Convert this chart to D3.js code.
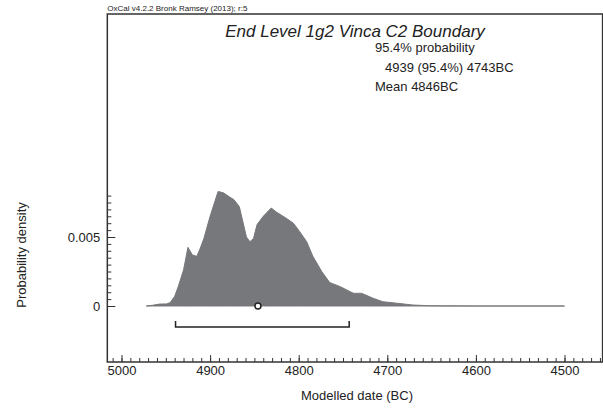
<!DOCTYPE html>
<html>
<head>
<meta charset="utf-8">
<script src="https://cdn.jsdelivr.net/npm/d3@7"></script>
<style>
  body { margin: 0; background: #fff; }
  text { font-family: "Liberation Sans", Arial, sans-serif; fill: #222; }
</style>
</head>
<body>
<div id="chart"></div>
<script>
// posterior density (year BC, probability)
var years   = [4972, 4965, 4957, 4949, 4945, 4940, 4936, 4930, 4925, 4920, 4915, 4911, 4907, 4900,
               4891, 4885, 4878, 4873, 4867, 4863, 4859, 4855, 4851, 4847, 4840, 4831, 4825, 4820,
               4815, 4806, 4799, 4791, 4784, 4774, 4765, 4753, 4742, 4738, 4729, 4716, 4705, 4689,
               4671, 4652, 4640, 4600, 4500];
var density = [0, 0.00005, 0.00014, 0.00015, 0.00025, 0.0007, 0.0014, 0.0026, 0.00425, 0.0037, 0.0036, 0.0042, 0.0049, 0.0065,
               0.0083, 0.0082, 0.0079, 0.0077, 0.0072, 0.0061, 0.0050, 0.00466, 0.0049, 0.0059, 0.0065, 0.0071, 0.0068, 0.0066,
               0.0064, 0.0060, 0.0054, 0.00466, 0.0036, 0.0025, 0.0017, 0.0014, 0.00104, 0.00092, 0.00092, 0.00056, 0.00031, 0.0002,
               0.00007, 0.00002, 0.00001, 0, 0];
var xTicks = [5000, 4900, 4800, 4700, 4600, 4500];
var yTicks = [0, 0.005];
var range95 = [4939, 4743];
var meanDate = 4846;
var title = "End Level 1g2 Vinca C2 Boundary";
var notes = ["95.4% probability", "4939 (95.4%) 4743BC", "Mean 4846BC"];

var width = 603, height = 416;
var svg = d3.select("#chart").append("svg")
    .attr("width", width)
    .attr("height", height);

var x = d3.scaleLinear().domain([5000, 4500]).range([121.5, 564.5]);
var y = d3.scaleLinear().domain([0, 0.005]).range([306, 237]);

var frameL = x(5016), frameR = x(4457), frameT = 14, frameB = 362;

// density area
var pts = years.map(function(d, i) { return [d, density[i]]; });
var area = d3.area()
    .x(function(d) { return x(d[0]); })
    .y0(y(0))
    .y1(function(d) { return y(d[1]); });
svg.append("path")
    .datum(pts)
    .attr("d", area)
    .attr("fill", "#77787b")
    .attr("stroke", "#77787b")
    .attr("stroke-width", 1);

// x axis, ticks inward
var xMajor = d3.axisBottom(x).tickValues(xTicks).tickSize(-7).tickPadding(4).tickFormat(d3.format("d"));
var xMinor = d3.axisBottom(x).tickValues(d3.range(5010, 4456, -10)).tickSize(-4).tickFormat("");
svg.append("g").attr("transform", "translate(0," + frameB + ")").call(xMinor);
svg.append("g").attr("transform", "translate(0," + frameB + ")").call(xMajor);

// y axis, ticks inward
var yMajor = d3.axisLeft(y).tickValues(yTicks).tickSize(-8).tickPadding(7).tickFormat(function(d) { return d === 0 ? "0" : d3.format(".3f")(d); });
var yMinor = d3.axisLeft(y).tickValues(d3.range(0, 0.00801, 0.0005)).tickSize(-4).tickFormat("");
svg.append("g").attr("transform", "translate(" + frameL + ",0)").call(yMinor);
svg.append("g").attr("transform", "translate(" + frameL + ",0)").call(yMajor);

svg.selectAll(".domain").remove();
svg.selectAll(".tick line").attr("stroke", "#333");
svg.selectAll(".tick text")
    .style("font-family", "'Liberation Sans', Arial, sans-serif")
    .style("font-size", "13px")
    .attr("fill", "#222");

// frame
svg.append("rect")
    .attr("x", frameL).attr("y", frameT)
    .attr("width", frameR - frameL).attr("height", frameB - frameT)
    .attr("fill", "none")
    .attr("stroke", "#333")
    .attr("stroke-width", 1.5);

// 95.4% range bracket
var by = 327;
svg.append("path")
    .attr("d", "M" + x(range95[0]) + "," + (by - 6) + "V" + by + "H" + x(range95[1]) + "V" + (by - 6))
    .attr("fill", "none")
    .attr("stroke", "#222")
    .attr("stroke-width", 1.5);

// mean marker
svg.append("circle")
    .attr("cx", x(meanDate)).attr("cy", y(0))
    .attr("r", 3)
    .attr("fill", "#fff")
    .attr("stroke", "#222")
    .attr("stroke-width", 1.5);

// texts
svg.append("text")
    .attr("x", frameL).attr("y", 11)
    .style("font-size", "8px")
    .text("OxCal v4.2.2 Bronk Ramsey (2013); r:5");

svg.append("text")
    .attr("x", 355).attr("y", 37)
    .attr("text-anchor", "middle")
    .style("font-size", "17px")
    .style("font-style", "italic")
    .text(title);

var noteX = [375, 385, 375], noteY = [52, 72, 91];
notes.forEach(function(t, i) {
  svg.append("text")
      .attr("x", noteX[i]).attr("y", noteY[i])
      .style("font-size", "13px")
      .text(t);
});

svg.append("text")
    .attr("x", 357).attr("y", 400)
    .attr("text-anchor", "middle")
    .style("font-size", "13px")
    .text("Modelled date (BC)");

svg.append("text")
    .attr("transform", "translate(26,255) rotate(-90)")
    .attr("text-anchor", "middle")
    .style("font-size", "13px")
    .text("Probability density");
</script>
</body>
</html>
